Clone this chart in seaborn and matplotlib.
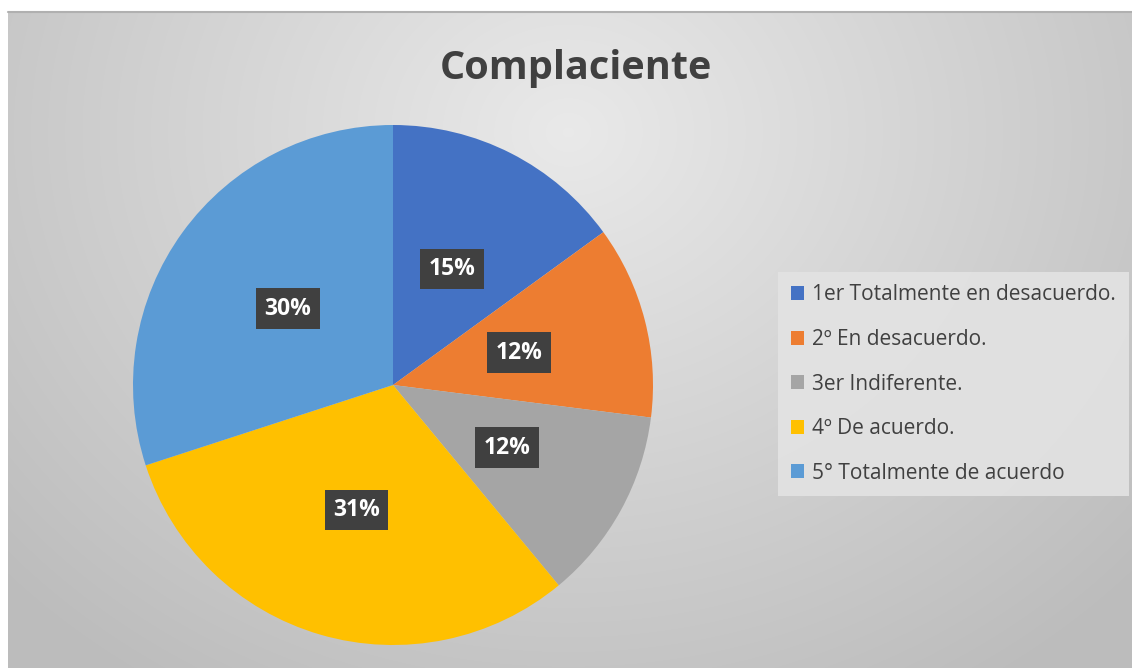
import numpy as np
import matplotlib
matplotlib.use("Agg")
import matplotlib.pyplot as plt
import seaborn as sns
from matplotlib.patches import Patch

categories = ["1er Totalmente en desacuerdo.", "2º En desacuerdo.", "3er Indiferente.",
              "4º De acuerdo.", "5° Totalmente de acuerdo"]
values = [15, 12, 12, 31, 30]
colors = ["#4472C4", "#ED7D31", "#A5A5A5", "#FFC000", "#5B9BD5"]
title = "Complaciente"

sns.set_theme(style="white")
plt.rcParams['font.family'] = ['Open Sans', 'DejaVu Sans']

W, H = 1132, 668
fig = plt.figure(figsize=(W / 100, H / 100), dpi=100, facecolor="white")

# background gradient panel
bg = fig.add_axes([8 / W, 0, 1 - 8 / W, 1 - 12 / H])
yy, xx = np.mgrid[0:656, 0:1124]
cx, cy = 560, 120
d = np.sqrt(((xx - cx) / 700.0) ** 2 + ((yy - cy) / 600.0) ** 2)
g = np.clip(0.915 - 0.16 * d, 0.74, 0.92)
bg.imshow(np.dstack([g, g, g]), aspect="auto", extent=[0, 1, 0, 1], origin="upper")
bg.set_axis_off()
bg.plot([0, 1], [1, 1], color="#b0b0b0", lw=1.5, transform=bg.transAxes, clip_on=False)

# pie
ax = fig.add_axes([133 / W, 23 / H, 520 / W, 520 / H])
wedges, texts, autotexts = ax.pie(values, colors=colors, startangle=90, counterclock=False,
                                  autopct="%1.0f%%", pctdistance=0.5,
                                  wedgeprops=dict(linewidth=0))
for t in autotexts:
    t.set_color("white")
    t.set_fontweight("bold")
    t.set_fontsize(16.5)
    t.set_bbox(dict(facecolor="#404040", edgecolor="none", boxstyle="square,pad=0.36"))
ax.set_xlim(-1, 1)
ax.set_ylim(-1, 1)
ax.set_aspect("equal")
ax.set_axis_off()

fig.text(576 / W, 1 - 68 / H, title, ha="center", va="center", fontsize=28.5,
         fontweight="bold", color="#404040")

handles = [Patch(facecolor=c, edgecolor="none") for c in colors]
leg = fig.legend(handles, categories, loc="upper left",
                 bbox_to_anchor=(778 / W, 1 - 272 / H), frameon=True, fancybox=False,
                 fontsize=15, handlelength=0.65, handleheight=0.65, handletextpad=0.4,
                 labelspacing=1.13, borderpad=0.6, borderaxespad=0)
leg.get_frame().set_facecolor("#e3e3e3")
leg.get_frame().set_edgecolor("none")
leg.get_frame().set_alpha(0.9)
for t in leg.get_texts():
    t.set_color("#404040")

fig.savefig("out.png", dpi=100, facecolor="white")
